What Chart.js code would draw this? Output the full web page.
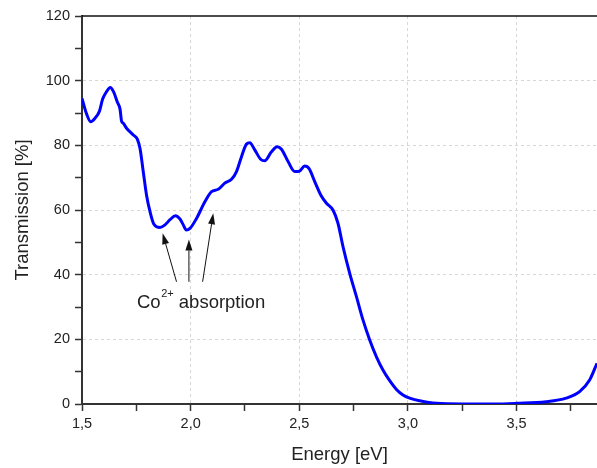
<!DOCTYPE html>
<html>
<head>
<meta charset="utf-8">
<title>Transmission</title>
<script src="https://cdn.jsdelivr.net/npm/chart.js@4/dist/chart.umd.min.js"></script>
<style>
  body { margin: 0; background: #fff; }
  #chart { display: block; }
</style>
</head>
<body>
<canvas id="chart" width="597" height="468"></canvas>
<script>
// spectrum
const energy = [
  1.50, 1.52, 1.54, 1.56, 1.58, 1.595, 1.613, 1.63, 1.645, 1.662,
  1.675, 1.682, 1.69, 1.705, 1.736, 1.754, 1.767, 1.782, 1.797, 1.813,
  1.831, 1.859, 1.882, 1.905, 1.93, 1.951, 1.966, 1.98, 1.997, 2.027,
  2.066, 2.096, 2.127, 2.157, 2.188, 2.211, 2.234, 2.257, 2.272, 2.295,
  2.322, 2.341, 2.372, 2.398, 2.418, 2.449, 2.479, 2.50, 2.525, 2.545,
  2.571, 2.60, 2.625, 2.655, 2.678, 2.701, 2.732, 2.763, 2.793, 2.824,
  2.855, 2.885, 2.916, 2.947, 2.977, 3.008, 3.054, 3.131, 3.25, 3.40,
  3.50, 3.636, 3.728, 3.79, 3.836, 3.87
];
const transmission = [
  94.5, 89.9, 87.3, 88.4, 90.5, 94.3, 96.6, 97.9, 96.6, 93.5,
  91.2, 87.5, 86.8, 85.3, 83.2, 82.0, 79.0, 71.8, 64.6, 59.5,
  55.6, 54.6, 55.4, 57.0, 58.2, 57.2, 55.4, 53.8, 54.3, 57.4,
  62.6, 65.7, 66.4, 68.3, 69.5, 71.9, 76.5, 80.4, 80.8, 78.6,
  75.7, 75.2, 78.0, 79.6, 78.8, 74.9, 71.9, 72.0, 73.6, 72.8,
  68.8, 64.5, 62.1, 60.0, 55.9, 48.7, 40.4, 33.2, 26.0, 19.8,
  14.6, 10.5, 7.2, 4.5, 2.8, 1.8, 1.0, 0.2, 0, 0,
  0.2, 0.7, 1.8, 3.8, 7.4, 12.6
];

// axes
const xRange = [1.5, 3.87];
const yRange = [0, 120];

// Co2+ arrows (tip and tail in data units) and the label under them
const arrowTips = [[1.871, 52.8], [1.992, 50.9], [2.104, 59.0]];
const arrowTails = [[1.935, 37.8], [1.992, 37.8], [2.055, 37.8]];
const labelAt = [1.753, 29.7];

const FONT = "'Liberation Sans', Arial, sans-serif";
const TEXT = "#222";
const AXIS = "#333";

function isMajorX(v) {
  return Math.abs(v * 2 - Math.round(v * 2)) < 1e-6;
}

function isMajorY(v) {
  return Math.round(v) % 20 === 0;
}

function commaLabel(v) {
  return v.toFixed(1).replace('.', ',');
}

const annotationPlugin = {
  id: 'coAnnotation',
  afterDatasetsDraw(chart) {
    const ctx = chart.ctx;
    const xs = chart.scales.x;
    const ys = chart.scales.y;

    ctx.save();
    ctx.strokeStyle = "#111";
    ctx.fillStyle = "#111";
    ctx.lineWidth = 1;
    arrowTips.forEach((tip, i) => {
      const tail = arrowTails[i];
      const x1 = xs.getPixelForValue(tail[0]);
      const y1 = ys.getPixelForValue(tail[1]);
      const x2 = xs.getPixelForValue(tip[0]);
      const y2 = ys.getPixelForValue(tip[1]);
      const ang = Math.atan2(y2 - y1, x2 - x1);
      const headLen = 11;
      const headW = 3.5;
      const bx = x2 - headLen * Math.cos(ang);
      const by = y2 - headLen * Math.sin(ang);

      ctx.beginPath();
      ctx.moveTo(x1, y1);
      ctx.lineTo(bx, by);
      ctx.stroke();

      ctx.beginPath();
      ctx.moveTo(x2, y2);
      ctx.lineTo(bx + headW * Math.sin(ang), by - headW * Math.cos(ang));
      ctx.lineTo(bx - headW * Math.sin(ang), by + headW * Math.cos(ang));
      ctx.closePath();
      ctx.fill();
    });

    // "Co2+ absorption"
    let lx = xs.getPixelForValue(labelAt[0]);
    const ly = ys.getPixelForValue(labelAt[1]);
    ctx.fillStyle = TEXT;
    ctx.textBaseline = 'alphabetic';
    ctx.textAlign = 'left';
    ctx.font = "18.5px " + FONT;
    ctx.fillText("Co", lx, ly);
    lx += ctx.measureText("Co").width + 0.5;
    ctx.font = "11px " + FONT;
    ctx.fillText("2+", lx, ly - 11);
    lx += ctx.measureText("2+").width;
    ctx.font = "18.5px " + FONT;
    ctx.fillText(" absorption", lx, ly);

    // top frame line
    const area = chart.chartArea;
    ctx.strokeStyle = "#111";
    ctx.lineWidth = 1.5;
    ctx.beginPath();
    ctx.moveTo(area.left, area.top);
    ctx.lineTo(area.right, area.top);
    ctx.stroke();
    ctx.restore();
  }
};

const ctx = document.getElementById('chart').getContext('2d');

new Chart(ctx, {
  type: 'line',
  data: {
    datasets: [{
      label: 'Transmission',
      data: energy.map((e, i) => ({ x: e, y: transmission[i] })),
      borderColor: '#0000ff',
      borderWidth: 3,
      pointRadius: 0,
      fill: false,
      cubicInterpolationMode: 'monotone'
    }]
  },
  options: {
    responsive: false,
    animation: false,
    layout: {
      padding: { top: 16, right: 0, bottom: 0, left: 0 }
    },
    plugins: {
      legend: { display: false },
      tooltip: { enabled: false }
    },
    scales: {
      x: {
        type: 'linear',
        min: xRange[0],
        max: xRange[1],
        afterFit: function(scale) { scale.height = 64; },
        ticks: {
          stepSize: 0.25,
          includeBounds: false,
          autoSkip: false,
          maxRotation: 0,
          padding: 4,
          color: TEXT,
          font: { family: FONT, size: 14.5 },
          callback: function(value) {
            return isMajorX(value) ? commaLabel(value) : '';
          }
        },
        grid: {
          color: function(c) {
            const v = c.tick ? c.tick.value : null;
            if (v === null || !isMajorX(v) || Math.abs(v - xRange[0]) < 1e-6) return 'transparent';
            return '#d6d6d6';
          },
          lineWidth: 1,
          tickColor: AXIS,
          tickWidth: 1.5,
          tickLength: 7
        },
        border: {
          color: AXIS,
          width: 2,
          dash: [3, 3]
        },
        title: {
          display: true,
          text: 'Energy [eV]',
          color: TEXT,
          font: { family: FONT, size: 18.5 },
          padding: { top: 0, bottom: 2 }
        }
      },
      y: {
        min: yRange[0],
        max: yRange[1],
        afterFit: function(scale) { scale.width = 82; },
        ticks: {
          stepSize: 10,
          autoSkip: false,
          padding: 5,
          color: TEXT,
          font: { family: FONT, size: 14.5 },
          callback: function(value) {
            return isMajorY(value) ? String(value) : '';
          }
        },
        grid: {
          color: function(c) {
            const v = c.tick ? c.tick.value : null;
            if (v === null || !isMajorY(v) || v === yRange[0] || v === yRange[1]) return 'transparent';
            return '#d6d6d6';
          },
          lineWidth: 1,
          tickColor: AXIS,
          tickWidth: 1.5,
          tickLength: 7
        },
        border: {
          color: AXIS,
          width: 2,
          dash: [3, 3]
        },
        title: {
          display: true,
          text: 'Transmission [%]',
          color: TEXT,
          font: { family: FONT, size: 18.5 },
          padding: { top: 12, bottom: 0 }
        }
      }
    }
  },
  plugins: [annotationPlugin]
});
</script>
</body>
</html>
